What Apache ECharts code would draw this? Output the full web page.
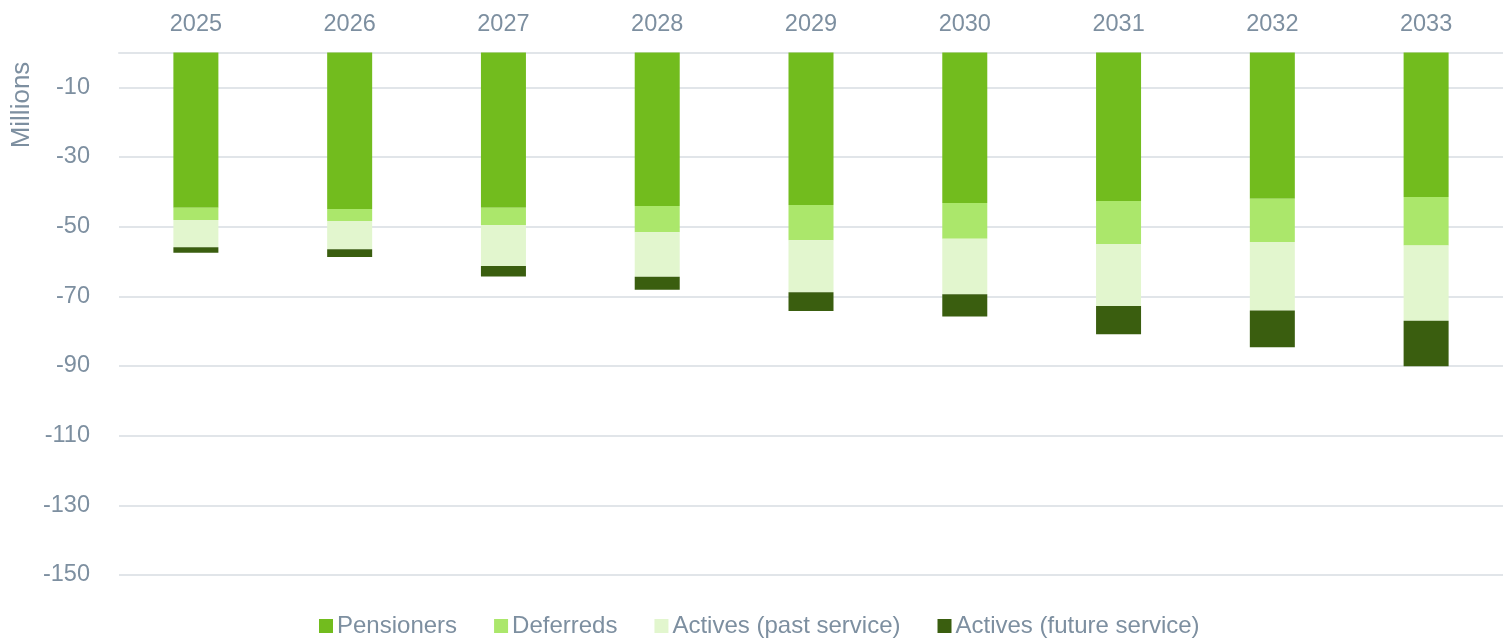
<!DOCTYPE html>
<html>
<head>
<meta charset="utf-8">
<script src="https://cdn.jsdelivr.net/npm/echarts@6/dist/echarts.min.js"></script>
<style>
html,body{margin:0;padding:0;background:#fff;}
#chart{width:1503px;height:640px;}
</style>
</head>
<body>
<div id="chart"></div>
<script>
const years = ['2025','2026','2027','2028','2029','2030','2031','2032','2033'];
const pensioners = [-44.6,-44.9,-44.6,-44.1,-43.8,-43.2,-42.6,-42.0,-41.5];
const deferreds = [-3.5,-3.5,-5.0,-7.5,-10.1,-10.3,-12.4,-12.4,-13.9];
const activesPast = [-7.8,-8.1,-11.7,-12.8,-14.9,-15.9,-17.8,-19.7,-21.6];
const activesFuture = [-1.6,-2.2,-3.0,-3.7,-5.4,-6.4,-8.1,-10.5,-13.1];
const seriesNames = ['Pensioners','Deferreds','Actives (past service)','Actives (future service)'];
const colors = ['#72bc1e','#abe76b','#e2f6ce','#3a5e0f'];

const textColor = '#7d8fa0';
const font = 'Liberation Sans, Arial, sans-serif';

const chart = echarts.init(document.getElementById('chart'));
const dataSets = [pensioners, deferreds, activesPast, activesFuture];
chart.setOption({
  animation: false,
  color: colors,
  grid: {left: 119, right: 0, top: 52.5, bottom: 65, containLabel: false},
  legend: {
    top: 609,
    left: 314,
    itemWidth: 14,
    itemHeight: 14,
    itemGap: 37,
    icon: 'rect',
    textStyle: {color: textColor, fontSize: 24, fontFamily: font, padding: [0,0,0,-1]},
    data: seriesNames
  },
  xAxis: {
    type: 'category',
    position: 'top',
    data: years,
    axisLine: {show: true, lineStyle: {color: '#e1e5e9', width: 2}},
    axisTick: {show: false},
    axisLabel: {color: textColor, fontSize: 23.5, fontFamily: font, margin: 16}
  },
  yAxis: {
    type: 'value',
    min: -150,
    max: 0,
    interval: 20,
    axisLine: {show: false},
    axisTick: {show: false},
    axisLabel: {color: textColor, fontSize: 23.5, fontFamily: font, margin: 29, showMaxLabel: false,
      formatter: v => v === 0 ? '' : String(v)},
    splitLine: {lineStyle: {color: '#e1e5e9', width: 2}}
  },
  graphic: [{
    type: 'text',
    x: 22, y: 105,
    rotation: Math.PI/2,
    style: {text: 'Millions', fill: textColor, fontSize: 26, fontFamily: font, align: 'center', verticalAlign: 'middle'}
  }],
  series: seriesNames.map((n, i) => ({
    name: n,
    type: 'bar',
    stack: 'total',
    barWidth: 45,
    data: dataSets[i],
    itemStyle: {color: colors[i]}
  }))
});
</script>
</body>
</html>
